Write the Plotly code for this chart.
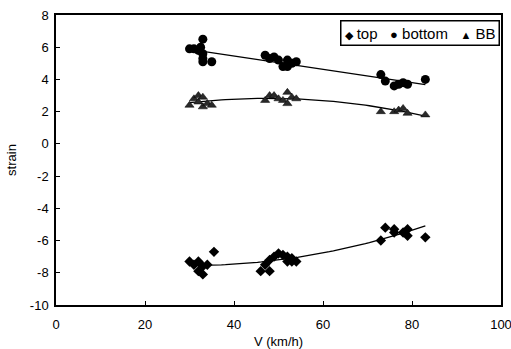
import numpy as np
import plotly.graph_objects as go

# --- data ---
top_v = [30, 31, 32, 32, 33, 33, 34, 35.5,
         46, 47, 48, 48, 49, 50, 51, 52, 52, 53, 53, 54,
         73, 74, 76, 76, 78, 79, 79, 83]
top_s = [-7.3, -7.5, -7.3, -7.9, -8.1, -7.6, -7.5, -6.7,
         -7.9, -7.5, -7.9, -7.2, -7.0, -6.8, -6.9, -7.0, -7.3, -7.1, -7.3, -7.3,
         -6.0, -5.2, -5.3, -5.5, -5.5, -5.3, -5.7, -5.8]

bottom_v = [30, 31, 32, 32.5, 33, 33, 33, 33, 35,
            47, 48, 49, 50, 51, 52, 52, 53, 54,
            73, 74, 76, 77, 78, 79, 83]
bottom_s = [5.9, 5.9, 5.8, 6.0, 6.5, 5.6, 5.3, 5.1, 5.1,
            5.5, 5.3, 5.4, 5.2, 4.8, 5.2, 4.8, 5.0, 5.1,
            4.3, 3.9, 3.6, 3.7, 3.8, 3.7, 4.0]

bb_v = [30, 31, 32, 32, 33, 33, 34, 35,
        47, 48, 49, 50, 51, 52, 52, 53, 54,
        73, 76, 77, 78, 79, 83]
bb_s = [2.4, 2.8, 3.0, 2.6, 2.3, 2.9, 2.5, 2.4,
        2.7, 3.0, 3.0, 2.8, 2.7, 3.2, 2.5, 2.9, 2.8,
        2.0, 2.0, 2.1, 2.2, 1.9, 1.8]

x_ticks = [0, 20, 40, 60, 80, 100]
y_ticks = [-10, -8, -6, -4, -2, 0, 2, 4, 6, 8]
y_tick_text = [str(v) for v in y_ticks]
x_tick_text = [str(v) for v in x_ticks]

series_names = ["top", "bottom", "BB"]
series_symbols = ["\u25c6", "\u25cf", "\u25b2"]
symbol_sizes = [11, 13, 11]

FONT = "Liberation Sans, Arial, sans-serif"

fig = go.Figure()


def trend(v, s, deg):
    c = np.polyfit(v, s, deg)
    xs = np.linspace(min(v), max(v), 60)
    return xs, np.polyval(c, xs)


for v, s, deg in [(top_v, top_s, 2), (bottom_v, bottom_s, 1), (bb_v, bb_s, 2)]:
    xs, ys = trend(v, s, deg)
    fig.add_trace(go.Scatter(x=xs, y=ys, mode="lines",
                             line=dict(color="black", width=1.3),
                             showlegend=False, hoverinfo="skip"))

fig.add_trace(go.Scatter(x=top_v, y=top_s, mode="markers", name="top", showlegend=False,
                         marker=dict(symbol="diamond", size=8, color="black")))
fig.add_trace(go.Scatter(x=bottom_v, y=bottom_s, mode="markers", name="bottom", showlegend=False,
                         marker=dict(symbol="circle", size=9, color="black")))
fig.add_trace(go.Scatter(x=bb_v, y=bb_s, mode="markers", name="BB", showlegend=False,
                         marker=dict(symbol="triangle-up", size=8, color="#2a2a2a",
                                     line=dict(color="black", width=0.5))))

axis_common = dict(showgrid=False, zeroline=False, showline=True, mirror=True,
                   linecolor="black", linewidth=1.5, ticks="inside", ticklen=4,
                   tickcolor="black", automargin=False, ticklabeloverflow="allow",
                   tickfont=dict(family=FONT, size=13, color="black"))

fig.update_xaxes(range=[0, 100], tickvals=x_ticks, ticktext=x_tick_text,
                 ticklabelstandoff=7,
                 title=dict(text="V (km/h)", font=dict(family=FONT, size=13, color="black"),
                            standoff=6),
                 **axis_common)
fig.update_yaxes(range=[-10, 8], tickvals=y_ticks, ticktext=y_tick_text,
                 ticklabelstandoff=3,
                 title=dict(text="strain", font=dict(family=FONT, size=13, color="black"),
                            standoff=10),
                 **axis_common)

legend_text = "&nbsp;&nbsp;&nbsp;".join(
    f"<span style='font-size:{sz}px'>{sym}</span>&nbsp;{nm}"
    for sym, nm, sz in zip(series_symbols, series_names, symbol_sizes))
fig.add_annotation(xref="paper", yref="paper", x=0.998, y=0.982,
                   xanchor="right", yanchor="top", showarrow=False,
                   text=legend_text, align="left",
                   font=dict(family=FONT, size=15, color="black"),
                   bordercolor="black", borderwidth=1.5, borderpad=3, bgcolor="white")

fig.update_layout(
    width=511, height=349,
    margin=dict(l=56, r=10, t=15, b=44),
    paper_bgcolor="white", plot_bgcolor="white",
    font=dict(family=FONT, size=13, color="black"),
    showlegend=False,
)

fig.write_html("out.html")
